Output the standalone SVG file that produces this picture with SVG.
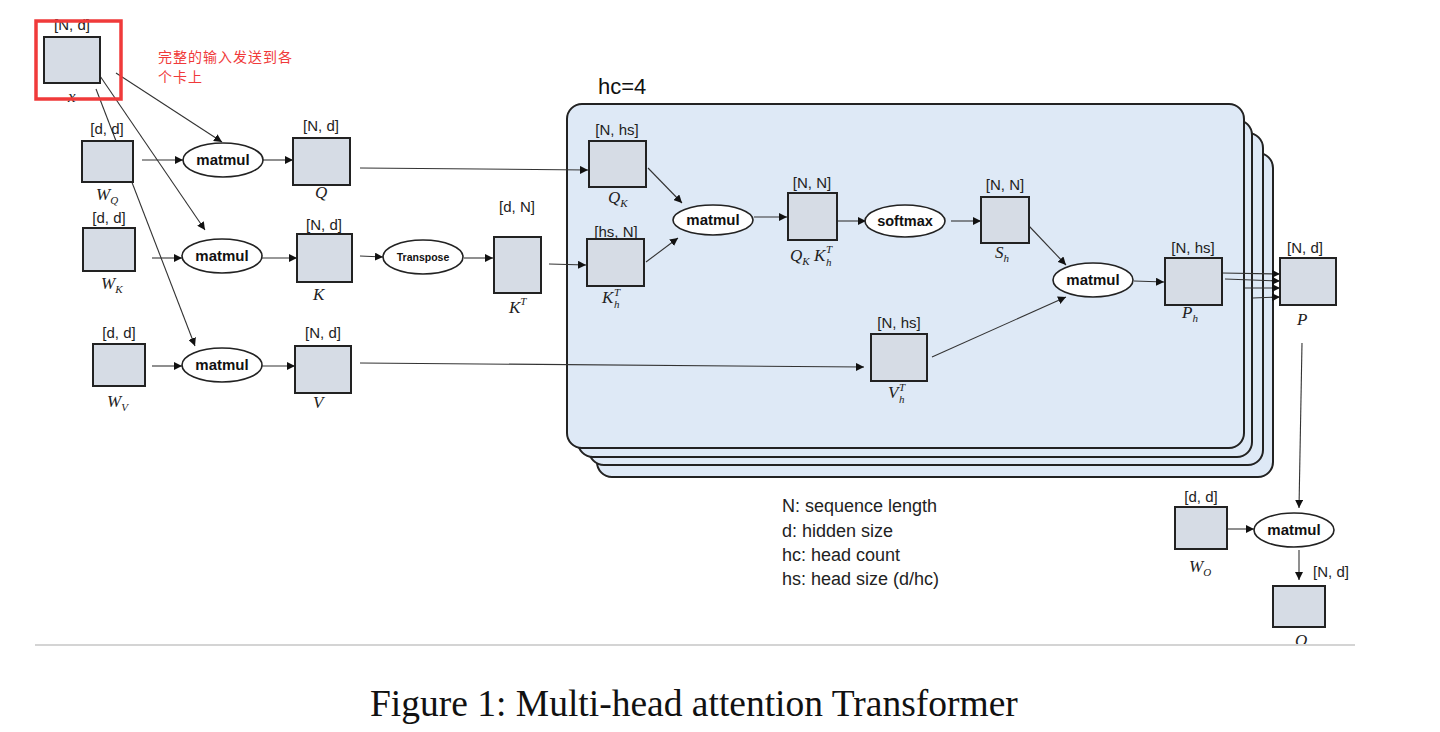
<svg xmlns="http://www.w3.org/2000/svg" width="1440" height="732" viewBox="0 0 1440 732">
<defs>
<marker id="ah" viewBox="0 0 10 10" refX="10" refY="5" markerWidth="8" markerHeight="8" markerUnits="userSpaceOnUse" orient="auto">
<path d="M0,0 L10,5 L0,10 z" fill="#111"/>
</marker>
<style>
.box{fill:#d6dce5;stroke:#222;stroke-width:2}
.op{fill:#fff;stroke:#222;stroke-width:1.6}
.panel{fill:#dee9f6;stroke:#222;stroke-width:2}
.dim{font-family:"Liberation Sans",Arial,sans-serif;font-size:15px;fill:#222;text-anchor:middle}
.opt{font-family:"Liberation Sans",Arial,sans-serif;font-size:15px;font-weight:bold;fill:#111;text-anchor:middle}
.m{font-family:"Liberation Serif","Times New Roman",serif;font-style:italic;font-size:17px;fill:#222}
.s{font-size:11px}
.c{fill:none;stroke:#333;stroke-width:1.1;marker-end:url(#ah)}
.leg{font-family:"Liberation Sans",Arial,sans-serif;font-size:18px;fill:#222}
</style>
</defs>
<rect width="1440" height="732" fill="#fff"/>

<g id="heads">
<rect class="panel" x="597" y="153" width="676" height="324" rx="15"/>
<rect class="panel" x="589" y="133" width="674" height="332" rx="15"/>
<rect class="panel" x="578" y="120" width="674" height="337" rx="15"/>
<rect class="panel" x="567" y="104" width="677" height="344" rx="15"/>
<text x="598" y="94" font-family="Liberation Sans,Arial,sans-serif" font-size="22" fill="#111">hc=4</text>
</g>

<g id="connectors">
<line class="c" x1="116" y1="73" x2="222" y2="142"/>
<line class="c" x1="100" y1="76" x2="205" y2="230"/>
<line class="c" x1="96" y1="89" x2="195" y2="346"/>
<line class="c" x1="142" y1="160" x2="183" y2="160"/>
<line class="c" x1="263" y1="160" x2="293" y2="160"/>
<line class="c" x1="152" y1="258" x2="182" y2="258"/>
<line class="c" x1="262" y1="258" x2="297" y2="258"/>
<line class="c" x1="152" y1="366" x2="182" y2="366"/>
<line class="c" x1="262" y1="366" x2="295" y2="366"/>
<line class="c" x1="360" y1="168" x2="588" y2="170"/>
<line class="c" x1="360" y1="256" x2="383" y2="257"/>
<line class="c" x1="464" y1="258" x2="493" y2="258"/>
<line class="c" x1="549" y1="264" x2="586" y2="265"/>
<line class="c" x1="648" y1="168" x2="682" y2="203"/>
<line class="c" x1="646" y1="262" x2="678" y2="238"/>
<line class="c" x1="754" y1="217" x2="787" y2="217"/>
<line class="c" x1="837" y1="221" x2="866" y2="221"/>
<line class="c" x1="951" y1="221" x2="981" y2="221"/>
<line class="c" x1="1029" y1="226" x2="1066" y2="265"/>
<line class="c" x1="360" y1="363" x2="864" y2="367"/>
<line class="c" x1="932" y1="357" x2="1066" y2="297"/>
<line class="c" x1="1134" y1="281" x2="1164" y2="282"/>
<line class="c" x1="1222" y1="273" x2="1280" y2="274"/>
<line class="c" x1="1225" y1="279" x2="1280" y2="281"/>
<line class="c" x1="1245" y1="288" x2="1280" y2="288"/>
<line class="c" x1="1253" y1="298" x2="1280" y2="297"/>
<line class="c" x1="1302" y1="343" x2="1299" y2="508"/>
<line class="c" x1="1227" y1="529" x2="1254" y2="529"/>
<line class="c" x1="1299" y1="550" x2="1299" y2="580"/>
</g>

<g id="x">
<rect class="box" x="44" y="37" width="56" height="46"/>
<text class="dim" x="72" y="30">[N, d]</text>
<text class="m" x="68" y="102">x</text>
<rect x="36" y="21" width="85" height="78" fill="none" stroke="#f03a3a" stroke-width="3.5"/>
<text font-family="Noto Sans CJK SC,sans-serif" font-size="14" letter-spacing="1" fill="#f03a3a"><tspan x="158" y="62">完整的输入发送到各</tspan><tspan x="158" y="82">个卡上</tspan></text>
</g>

<g id="WQ">
<rect class="box" x="82" y="141" width="51" height="41"/>
<text class="dim" x="107" y="134">[d, d]</text>
<text class="m" x="96" y="200">W<tspan class="s" dy="4">Q</tspan></text>
</g>
<g id="matmulQ"><ellipse class="op" cx="223" cy="160" rx="40" ry="17"/><text class="opt" x="223" y="165">matmul</text></g>
<g id="Q">
<rect class="box" x="293" y="138" width="57" height="47"/>
<text class="dim" x="321" y="131">[N, d]</text>
<text class="m" x="315" y="198">Q</text>
</g>

<g id="WK">
<rect class="box" x="83" y="228" width="52" height="43"/>
<text class="dim" x="109" y="223">[d, d]</text>
<text class="m" x="101" y="289">W<tspan class="s" dy="4">K</tspan></text>
</g>
<g id="matmulK"><ellipse class="op" cx="222" cy="256" rx="40" ry="17"/><text class="opt" x="222" y="261">matmul</text></g>
<g id="K">
<rect class="box" x="297" y="234" width="55" height="48"/>
<text class="dim" x="324" y="230">[N, d]</text>
<text class="m" x="313" y="300">K</text>
</g>

<g id="WV">
<rect class="box" x="93" y="344" width="52" height="42"/>
<text class="dim" x="119" y="338">[d, d]</text>
<text class="m" x="107" y="407">W<tspan class="s" dy="4">V</tspan></text>
</g>
<g id="matmulV"><ellipse class="op" cx="222" cy="365" rx="40" ry="17"/><text class="opt" x="222" y="370">matmul</text></g>
<g id="V">
<rect class="box" x="295" y="346" width="56" height="47"/>
<text class="dim" x="323" y="338">[N, d]</text>
<text class="m" x="313" y="408">V</text>
</g>

<g id="transpose"><ellipse class="op" cx="423" cy="257" rx="40" ry="17"/><text class="opt" x="423" y="261" style="font-size:10.5px">Transpose</text></g>
<g id="KT">
<rect class="box" x="494" y="237" width="47" height="56"/>
<text class="dim" x="517" y="212">[d, N]</text>
<text class="m" x="509" y="313">K<tspan class="s" dy="-8">T</tspan></text>
</g>

<g id="QK">
<rect class="box" x="589" y="141" width="57" height="46"/>
<text class="dim" x="617" y="135">[N, hs]</text>
<text class="m" x="608" y="203">Q<tspan class="s" dy="4">K</tspan></text>
</g>
<g id="KhT">
<rect class="box" x="587" y="239" width="57" height="47"/>
<text class="dim" x="616" y="237">[hs, N]</text>
<text class="m" x="602" y="303">K</text><text class="m s" x="614" y="296">T</text><text class="m s" x="614" y="308">h</text>
</g>
<g id="matmulH"><ellipse class="op" cx="713" cy="220" rx="40" ry="15"/><text class="opt" x="713" y="225">matmul</text></g>
<g id="QKKT">
<rect class="box" x="788" y="193" width="49" height="47"/>
<text class="dim" x="812" y="188">[N, N]</text>
<text class="m" x="790" y="261">Q<tspan class="s" dy="4">K</tspan></text><text class="m" x="814" y="261">K</text><text class="m s" x="826" y="253">T</text><text class="m s" x="826" y="266">h</text>
</g>
<g id="softmax"><ellipse class="op" cx="905" cy="221" rx="40" ry="16"/><text class="opt" x="905" y="226" style="font-size:14.5px">softmax</text></g>
<g id="Sh">
<rect class="box" x="981" y="197" width="48" height="46"/>
<text class="dim" x="1005" y="190">[N, N]</text>
<text class="m" x="995" y="258">S<tspan class="s" dy="4">h</tspan></text>
</g>
<g id="VhT">
<rect class="box" x="871" y="334" width="56" height="47"/>
<text class="dim" x="899" y="328">[N, hs]</text>
<text class="m" x="888" y="398">V</text><text class="m s" x="899" y="391">T</text><text class="m s" x="899" y="403">h</text>
</g>
<g id="matmulS"><ellipse class="op" cx="1093" cy="280" rx="40" ry="17"/><text class="opt" x="1093" y="285">matmul</text></g>
<g id="Ph">
<rect class="box" x="1165" y="258" width="57" height="47"/>
<text class="dim" x="1193" y="253">[N, hs]</text>
<text class="m" x="1182" y="318">P<tspan class="s" dy="4">h</tspan></text>
</g>

<g id="P">
<rect class="box" x="1280" y="258" width="56" height="47"/>
<text class="dim" x="1305" y="253">[N, d]</text>
<text class="m" x="1297" y="325">P</text>
</g>
<g id="WO">
<rect class="box" x="1175" y="507" width="52" height="42"/>
<text class="dim" x="1201" y="502">[d, d]</text>
<text class="m" x="1189" y="572">W<tspan class="s" dy="4">O</tspan></text>
</g>
<g id="matmulO"><ellipse class="op" cx="1294" cy="530" rx="40" ry="17"/><text class="opt" x="1294" y="535">matmul</text></g>
<g id="O">
<rect class="box" x="1273" y="586" width="52" height="41"/>
<text class="dim" x="1331" y="577">[N, d]</text>
<text class="m" x="1295" y="646">O</text>
</g>

<g id="legend">
<text class="leg" x="782" y="512">N: sequence length</text>
<text class="leg" x="782" y="537">d: hidden size</text>
<text class="leg" x="782" y="561">hc: head count</text>
<text class="leg" x="782" y="585">hs: head size (d/hc)</text>
</g>

<line x1="35" y1="645" x2="1355" y2="645" stroke="#d4d4d4" stroke-width="2"/>
<text x="370" y="716" font-family="Liberation Serif,Times New Roman,serif" font-size="37.5" fill="#111">Figure 1: Multi-head attention Transformer</text>
</svg>
